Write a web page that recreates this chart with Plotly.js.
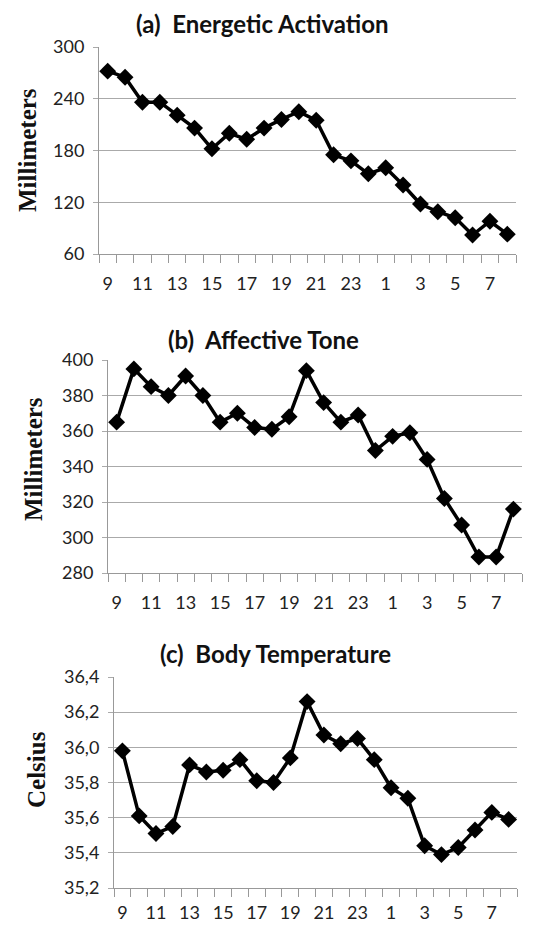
<!DOCTYPE html>
<html>
<head>
<meta charset="utf-8">
<script src="https://cdn.plot.ly/plotly-3.0.1.min.js"></script>
<style>
  html, body { margin: 0; padding: 0; background: #fff; }
  #chart { width: 547px; height: 925px; }
</style>
</head>
<body>
<div id="chart"></div>
<script>
// Hour of day (categories, in order)
const hours = ['9','10','11','12','13','14','15','16','17','18','19','20','21','22','23','0','1','2','3','4','5','6','7','8'];
// Hours that carry a tick label (every other hour)
const labeledHours = ['9','11','13','15','17','19','21','23','1','3','5','7'];

// (a) Energetic Activation, millimeters
const energeticActivation = [272,265,236,236,221,206,182,200,193,206,216,225,215,175,168,153,160,140,118,109,102,82,98,83];
// (b) Affective Tone, millimeters
const affectiveTone = [365,395,385,380,391,380,365,370,362,361,368,394,376,365,369,349,357,359,344,322,307,289,289,316];
// (c) Body Temperature, Celsius
const bodyTemperature = [35.98,35.61,35.51,35.55,35.90,35.86,35.87,35.93,35.81,35.80,35.94,36.26,36.07,36.02,36.05,35.93,35.77,35.71,35.44,35.39,35.43,35.53,35.63,35.59];

const panelTitles = ['<b>(a)  Energetic Activation</b>', '<b>(b)  Affective Tone</b>', '<b>(c)  Body Temperature</b>'];
const yTitles = ['<b>Millimeters</b>', '<b>Millimeters</b>', '<b>Celsius</b>'];
const yRanges = [[60,300],[280,400],[35.2,36.4]];
const yDticks = [60,20,0.2];

// category positions on the axis (slot index of each hour)
const xPos = hours.map((h, i) => i);
const labeledPos = labeledHours.map(h => hours.indexOf(h));

const W = 547, H = 925;
// pixel boxes of each plot area [left, right, top, bottom]
const boxes = [[99,516,47,254],[108,522,360,573],[114,517,677,888]];
const titlePos = [[262,24],[263,339],[275,653]];
const yTitlePos = [[27,150],[33,459],[36,770]];
const xLabelStandoff = [13, 13, 8];

const series = [energeticActivation, affectiveTone, bodyTemperature];
const tickFont = {family: 'Lato, "Open Sans", sans-serif', size: 18, color: '#222'};

const data = series.map((vals, i) => ({
  x: xPos,
  y: vals,
  text: hours,
  xaxis: i === 0 ? 'x' : 'x' + (i + 1),
  yaxis: i === 0 ? 'y' : 'y' + (i + 1),
  type: 'scatter',
  mode: 'lines+markers',
  line: {color: '#000', width: 3.5},
  marker: {symbol: 'diamond', size: 13, color: '#000'},
  hoverinfo: 'skip',
  showlegend: false,
  cliponaxis: false
}));

const layout = {
  width: W, height: H,
  margin: {l: 0, r: 0, t: 0, b: 0},
  paper_bgcolor: '#fff',
  plot_bgcolor: '#fff',
  separators: ',.',
  showlegend: false,
  annotations: []
};

boxes.forEach((b, i) => {
  const xa = i === 0 ? 'xaxis' : 'xaxis' + (i + 1);
  const ya = i === 0 ? 'yaxis' : 'yaxis' + (i + 1);
  const yid = i === 0 ? 'y' : 'y' + (i + 1);
  const xid = i === 0 ? 'x' : 'x' + (i + 1);
  layout[xa] = {
    domain: [b[0] / W, b[1] / W],
    anchor: yid,
    type: 'linear',
    range: [-0.5, hours.length - 0.5],
    tickmode: 'array',
    tickvals: labeledPos,
    ticktext: labeledHours,
    tickangle: 0,
    ticks: '',
    minor: {
      tickmode: 'linear',
      tick0: -0.5,
      dtick: 1,
      ticks: 'outside',
      ticklen: 8,
      tickwidth: 1,
      tickcolor: '#999',
      showgrid: false
    },
    showline: true,
    linecolor: '#999',
    linewidth: 1,
    showgrid: false,
    zeroline: false,
    tickfont: tickFont,
    ticklabelstandoff: xLabelStandoff[i],
    fixedrange: true
  };
  layout[ya] = {
    domain: [1 - b[3] / H, 1 - b[2] / H],
    anchor: xid,
    range: yRanges[i],
    tickmode: 'linear',
    tick0: yRanges[i][0],
    dtick: yDticks[i],
    tickformat: i === 2 ? '.1f' : 'd',
    ticks: 'outside',
    ticklen: 5,
    tickcolor: '#aaa',
    showline: true,
    linecolor: '#999',
    linewidth: 1,
    showgrid: true,
    gridcolor: '#aaa',
    gridwidth: 1,
    zeroline: false,
    tickfont: tickFont,
    ticklabelstandoff: 5,
    fixedrange: true
  };
  layout.annotations.push({
    xref: 'paper', yref: 'paper',
    x: titlePos[i][0] / W, y: 1 - titlePos[i][1] / H,
    xanchor: 'center', yanchor: 'middle',
    text: panelTitles[i],
    showarrow: false,
    font: {family: 'Lato, "Open Sans", sans-serif', size: 24, color: '#111'}
  });
  layout.annotations.push({
    xref: 'paper', yref: 'paper',
    x: yTitlePos[i][0] / W, y: 1 - yTitlePos[i][1] / H,
    xanchor: 'center', yanchor: 'middle',
    text: yTitles[i],
    textangle: -90,
    showarrow: false,
    font: {family: '"Liberation Serif", "Times New Roman", serif', size: 25, color: '#111'}
  });
});

Plotly.newPlot('chart', data, layout, {displayModeBar: false, staticPlot: true});
</script>
</body>
</html>
